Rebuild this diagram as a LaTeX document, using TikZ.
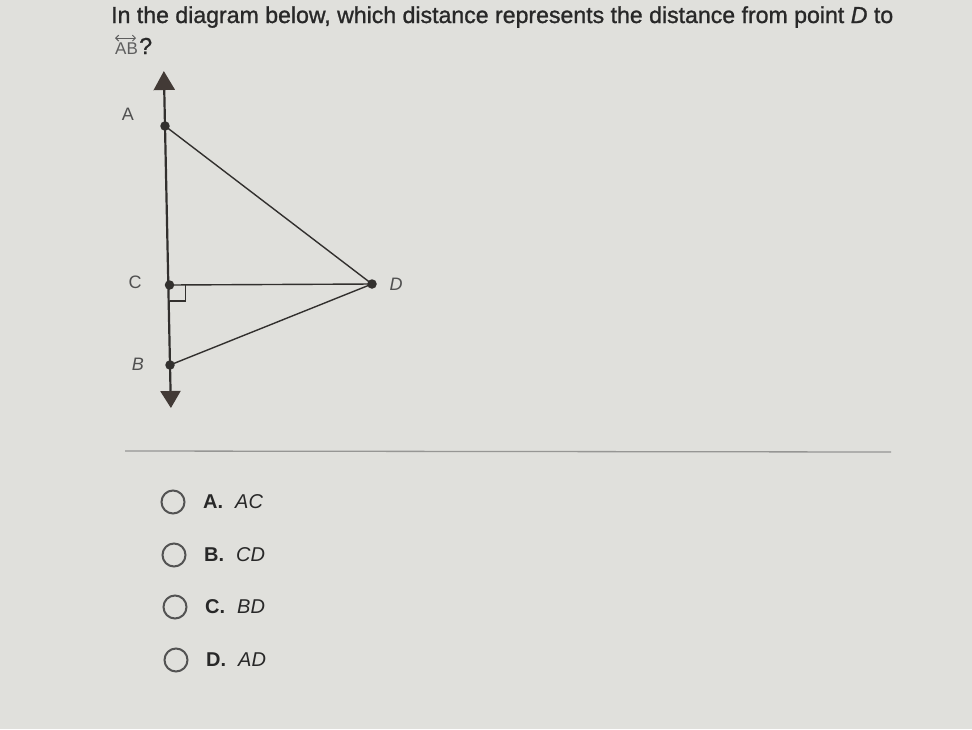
\documentclass[tikz,border=0pt]{standalone}
\usepackage{fontspec}
\setmainfont{Liberation Sans}
\newfontfamily\titlefont[FakeBold=1.1]{Liberation Sans}
\usetikzlibrary{arrows.meta,calc}
\definecolor{bg}{RGB}{224,224,220}
\definecolor{ink}{RGB}{40,40,40}
\definecolor{lineink}{RGB}{50,48,46}
\definecolor{arrowink}{RGB}{66,58,54}
\definecolor{lbl}{RGB}{80,80,80}
\definecolor{sep}{RGB}{150,150,148}
\tikzset{
  title/.style={anchor=base west,inner sep=0pt,text=ink,font=\titlefont\fontsize{23.1}{27}\selectfont},
  ptlabel/.style={inner sep=0pt,text=lbl,font=\fontsize{18}{21}\selectfont},
  dot/.style={circle,fill=lineink,inner sep=0pt,minimum size=9.5pt},
  seg/.style={draw=lineink,line width=1.4pt},
  radio/.style={circle,draw=ink!80,line width=2pt,minimum size=23pt,inner sep=0pt},
  opt/.style={anchor=base west,inner sep=0pt,text=ink,font=\fontsize{20}{24}\selectfont},
}
\begin{document}
\begin{tikzpicture}[x=1pt,y=-1pt]
\useasboundingbox (0,0) rectangle (972,729);
\fill[bg] (0,0) rectangle (972,729);
% title
\node[title] (t1) at (111,23) {In the diagram below, which distance represents the distance from point \textit{D} to};
\node[anchor=base west,inner sep=0pt,text=ink!75,font=\fontsize{17}{20}\selectfont] (ab) at (115,54) {AB};
\node[title,anchor=base west] (q) at ($(ab.base east)+(1,0)$) {?};
\draw[ink!75,line width=1pt,{Straight Barb[length=3pt]}-{Straight Barb[length=3pt]}] ($(ab.north west)+(0,-4)$) -- ($(ab.north east)+(-2,-4)$);
% points
\coordinate (A) at (165,126);
\coordinate (B) at (170,365);
\coordinate (C) at (169.5,285);
\coordinate (D) at (372,284);
\coordinate (top) at ($(A)!-0.23!(B)$);
\coordinate (bot) at ($(A)!1.18!(B)$);
% line AB with arrows
\draw[lineink,line width=2.2pt,{Triangle[length=19pt,width=21pt,color=arrowink]}-{Triangle[length=17pt,width=20pt,color=arrowink]}] (top) -- (bot);
% triangle segments
\draw[seg] (A) -- (D);
\draw[seg] (C) -- (D);
\draw[seg] (B) -- (D);
% right angle
\draw[lineink,line width=1.3pt] ($(C)+(16,0)$) -- ($(C)+(16,16)$) -- ($(C)+(0,16)$);
% dots
\node[dot] (dA) at (A) {};
\node[dot] (dB) at (B) {};
\node[dot] (dC) at (C) {};
\node[dot] (dD) at (D) {};
% labels
\node[ptlabel] (lA) at (128,114) {A};
\node[ptlabel] (lC) at (135,282) {C};
\node[ptlabel] (lB) at (138,364) {\textit{B}};
\node[ptlabel] (lD) at (396,284) {\textit{D}};
% separator
\draw[sep,line width=1.3pt] (125,451) -- (891,452);
% options
\node[radio] (r1) at (173,502) {};
\node[radio] (r2) at (174,555) {};
\node[radio] (r3) at (175,607) {};
\node[radio] (r4) at (176,660) {};
\node[opt] (o1) at (203,508) {\textbf{A.}\hspace{0.6em}\textit{AC}};
\node[opt] (o2) at (204,561) {\textbf{B.}\hspace{0.6em}\textit{CD}};
\node[opt] (o3) at (205,613) {\textbf{C.}\hspace{0.6em}\textit{BD}};
\node[opt] (o4) at (206,666) {\textbf{D.}\hspace{0.6em}\textit{AD}};
\end{tikzpicture}
\end{document}
